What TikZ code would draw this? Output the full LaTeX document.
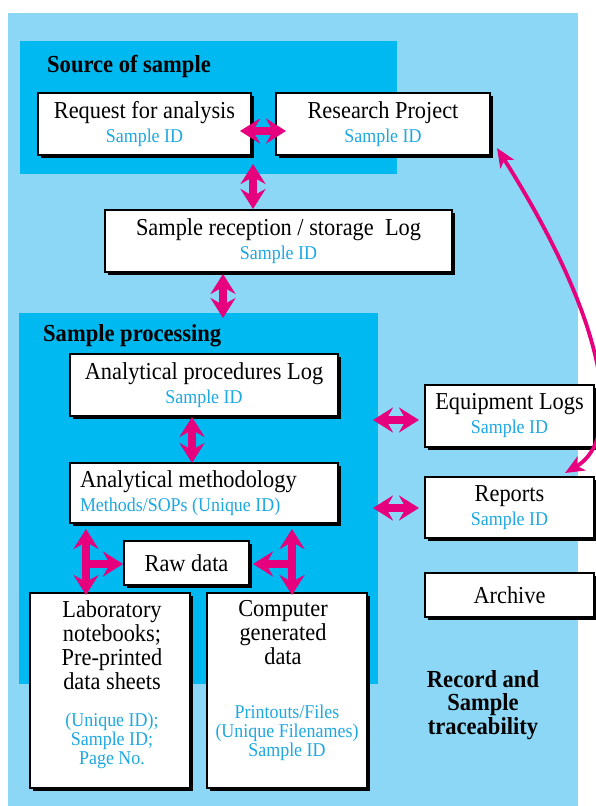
\documentclass[tikz,border=0pt]{standalone}
\usepackage{fontspec}
\setmainfont[FakeStretch=0.92]{Liberation Serif}
\usetikzlibrary{arrows.meta,shadows}
\definecolor{lightbg}{RGB}{140,215,245}
\definecolor{darkbg}{RGB}{0,185,240}
\definecolor{mag}{RGB}{230,0,126}
\definecolor{idblue}{RGB}{30,168,226}
\newcommand\tsz{\fontsize{24.3}{24}\selectfont}
\newcommand\ssz{\fontsize{19.5}{19}\selectfont\color{idblue}}
\newcommand\bsz{\fontsize{24.5}{23.5}\selectfont\bfseries}
\tikzset{
  region/.style={fill=darkbg, inner sep=0pt, outer sep=0pt},
  box/.style={draw=black, line width=1.2pt, fill=white, inner sep=0pt, outer sep=0pt,
    align=center, font=\tsz,
    general shadow={fill=black, shadow xshift=3pt, shadow yshift=-3pt}},
  txt/.style={inner sep=0pt, align=center},
  dbl/.style={draw=mag, line width=8pt, {Stealth[length=20pt,width=25pt,inset=7pt]}-{Stealth[length=20pt,width=25pt,inset=7pt]}},
  sgl/.style={draw=mag, line width=8pt, -{Stealth[length=20pt,width=25pt,inset=7pt]}},
  curv/.style={draw=mag, line width=3.8pt, {Stealth[length=19pt,width=16pt,inset=5pt]}-{Stealth[length=19pt,width=16pt,inset=5pt]}}
}
\begin{document}
\begin{tikzpicture}[x=1pt,y=-1pt]
\clip (0,0) rectangle (596,806);
\fill[white] (0,0) rectangle (596,806);
\fill[lightbg] (8,13) rectangle (578,806);
% regions
\node[region, minimum width=377pt, minimum height=133pt] (src) at (208.5,107.5) {};
\node[region, minimum width=359pt, minimum height=371pt] (proc) at (198.5,498.5) {};
\node[txt, anchor=west, font=\bsz] (srct) at (47,66) {Source of sample};
\node[txt, anchor=west, font=\bsz] (proct) at (43,336) {Sample processing};
% boxes
\node[box, minimum width=213pt, minimum height=62pt] (req) at (144.5,124) {Request for analysis\\{\ssz Sample ID}};
\node[box, minimum width=214pt, minimum height=62pt] (res) at (383,124) {Research Project\\{\ssz Sample ID}};
\node[box, minimum width=347pt, minimum height=62pt] (rec) at (278.5,241) {Sample reception / storage\ \ Log\\{\ssz Sample ID}};
\node[box, minimum width=268pt, minimum height=62pt] (ap) at (204,385) {Analytical procedures Log\\{\ssz Sample ID}};
\node[box, minimum width=268pt, minimum height=60pt, inner xsep=10pt, text width=248pt, align=flush left] (am) at (204,493) {Analytical methodology\\{\ssz Methods/SOPs (Unique ID)}};
\node[box, minimum width=169pt, minimum height=62pt] (eq) at (509.5,416) {Equipment Logs\\{\ssz Sample ID}};
\node[box, minimum width=169pt, minimum height=61pt] (rep) at (509.5,507.5) {Reports\\{\ssz Sample ID}};
\node[box, minimum width=169pt, minimum height=44pt] (arc) at (509.5,595) {Archive};
\node[box, minimum width=125pt, minimum height=44pt] (raw) at (186.5,563) {Raw data};
\node[box, minimum width=160pt, minimum height=195pt] (lab) at (110,690.5) {};
\node[box, minimum width=160pt, minimum height=195pt] (comp) at (287,690.5) {};
\node[txt, anchor=north, font=\tsz] (labt) at (112,600) {Laboratory\\notebooks;\\Pre-printed\\data sheets};
\node[txt, anchor=north, font=\ssz] (labs) at (112,712.8) {(Unique ID);\\Sample ID;\\Page No.};
\node[txt, anchor=north, font=\tsz] (compt) at (283,600.6) {Computer\\generated\\data};
\node[txt, anchor=north, font=\ssz] (comps) at (287,704.7) {Printouts/Files\\(Unique Filenames)\\Sample ID};
\node[txt, font=\bsz] (trace) at (483,705) {Record and\\Sample\\traceability};
% arrows
\draw[dbl] ([shift={(-11,7)}]req.east) -- ([shift={(10,7)}]res.west);
\draw[dbl] ([shift={(2,9)}]req.south east) -- ([shift={(-25.5,-1)}]rec.north);
\draw[dbl] ([shift={(-55.5,2)}]rec.south) -- ([shift={(24.5,5)}]proc.north);
\draw[dbl] ([shift={(-12,1)}]ap.south) -- ([shift={(-12,0)}]am.north);
\draw[dbl] ([shift={(-5,-78.5)}]proc.east) -- ([shift={(-6,4)}]eq.west);
\draw[dbl] ([shift={(-5,9.5)}]proc.east) -- ([shift={(-6,0.5)}]rep.west);
\draw[dbl] ([shift={(16,6)}]am.south west) -- ([shift={(-24,2)}]lab.north);
\coordinate (tl) at ([shift={(16,41)}]am.south west);
\draw[sgl] (tl) -- ([shift={(-1,1)}]raw.west);
\draw[dbl] ([shift={(-46,6)}]am.south east) -- ([shift={(5,2)}]comp.north);
\coordinate (tr) at ([shift={(-46,41)}]am.south east);
\draw[sgl] (tr) -- ([shift={(4,1)}]raw.east);
\draw[curv] ([shift={(7,-7)}]res.south east) .. controls (612,330) and (622,440) .. ([shift={(-29,-4)}]rep.north east);
\end{tikzpicture}
\end{document}
